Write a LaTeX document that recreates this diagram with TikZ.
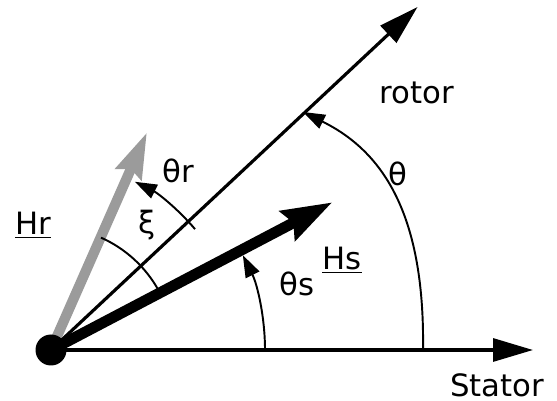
\documentclass[tikz,border=0pt]{standalone}
\usepackage{fontspec}
\setmainfont{DejaVu Sans}
\usetikzlibrary{arrows.meta}
\definecolor{rotgray}{RGB}{155,155,155}
\tikzset{
  axisarrow/.style={-{Triangle[length=0.8cm, width=0.46cm]}, line width=1.8pt},
  statorfield/.style={-{Stealth[length=1cm, width=0.64cm, inset=0.12cm]}, line width=6.2pt},
  rotorfield/.style={-{Stealth[length=0.9cm, width=0.54cm, inset=0.1cm]}, line width=5.8pt, draw=rotgray},
  anglearc/.style={-{Triangle[length=0.44cm, width=0.3cm]}, line width=1.1pt},
  plainarc/.style={line width=1.1pt},
  lbl/.style={inner sep=0pt}
}
\begin{document}
\begin{tikzpicture}[x=0.02cm, y=0.02cm, every node/.style={font=\fontsize{17.5}{20}\selectfont}]
  \useasboundingbox (-51,-51) rectangle (506,350);
  \coordinate (O) at (0,0);
  \coordinate (stator) at (482,0);
  \coordinate (rotor) at (43.1:502);
  \coordinate (Hs) at (27.7:318);
  \coordinate (Hr) at (66.2:238);
  \coordinate (thstart) at (372,0);
  \coordinate (thend) at (252,238);
  \draw[rotorfield] (O) -- (Hr);
  \draw[axisarrow] (O) -- (stator);
  \draw[axisarrow] (O) -- (rotor);
  \draw[statorfield] (O) -- (Hs);
  \draw[anglearc] (thstart) .. controls (374,140) and (329,200) .. (thend);
  \draw[anglearc] (0:214) arc[start angle=0, end angle=26.3, radius=214];
  \draw[anglearc] (40:188) arc[start angle=40, end angle=63.5, radius=188];
  \draw[plainarc] (29:123) arc[start angle=29, end angle=66, radius=123];
  \node[circle, fill=black, minimum size=0.62cm, inner sep=0pt] (origin) at (O) {};
  \node[lbl] (lHr) at (-18,125) {\underline{Hr}};
  \node[lbl] (lthr) at (127,179) {θr};
  \node[lbl] (lxi) at (96,125) {ξ};
  \node[lbl] (lrotor) at (366,257) {rotor};
  \node[lbl] (lth) at (347,176) {θ};
  \node[lbl] (lHs) at (291,90) {\underline{Hs}};
  \node[lbl] (lths) at (246,66) {θs};
  \node[lbl] (lstator) at (446,-35) {Stator};
\end{tikzpicture}
\end{document}
